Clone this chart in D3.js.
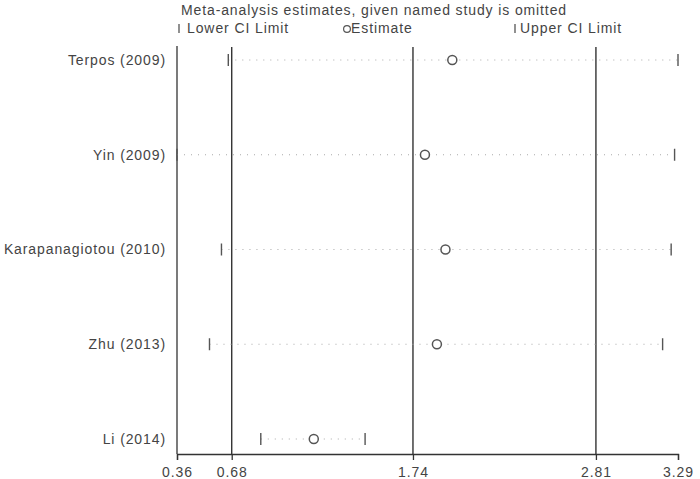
<!DOCTYPE html>
<html>
<head>
<meta charset="utf-8">
<script src="https://cdn.jsdelivr.net/npm/d3@7"></script>
<style>
  body { margin: 0; background: #fff; }
  svg { display: block; }
  text { font-family: "Liberation Sans", Arial, sans-serif; fill: #444; letter-spacing: 0.9px; }
</style>
</head>
<body>
<svg id="chart" width="700" height="479"></svg>
<script>
const studies = ["Terpos (2009)", "Yin (2009)", "Karapanagiotou (2010)", "Zhu (2013)", "Li (2014)"];
const lowerCI = [0.66, 0.36, 0.62, 0.55, 0.85];
const estimates = [1.97, 1.81, 1.93, 1.88, 1.16];
const upperCI = [3.29, 3.27, 3.25, 3.20, 1.46];
const tickValues = [0.36, 0.68, 1.74, 2.81, 3.29];
const refLines = [0.68, 1.74, 2.81];
const titleText = "Meta-analysis estimates, given named study is omitted";

const svg = d3.select("#chart");
const x = d3.scaleLinear().domain([0.36, 3.29]).range([177, 678]);
const y = d3.scalePoint().domain(studies).range([60, 439]);
const plotTop = 46, plotBottom = 454;

// axis
const axis = d3.axisBottom(x).tickValues(tickValues).tickFormat(d3.format(".2f")).tickSizeInner(6).tickSizeOuter(6);
const gx = svg.append("g").attr("transform", `translate(0,${plotBottom})`).call(axis);
gx.select(".domain").attr("stroke", "#333").attr("stroke-width", 1.3);
gx.selectAll(".tick line").attr("stroke", "#333").attr("stroke-width", 1.3);
gx.selectAll(".tick text").attr("font-size", 14).attr("fill", "#444").attr("dy", "1.0em")
  .attr("font-family", "Liberation Sans, Arial, sans-serif");

// left vertical axis line
svg.append("line").attr("x1", x(0.36)).attr("x2", x(0.36)).attr("y1", plotTop).attr("y2", plotBottom)
  .attr("stroke", "#333").attr("stroke-width", 1.3);

// reference lines
svg.selectAll(".ref").data(refLines).join("line")
  .attr("x1", d => x(d)).attr("x2", d => x(d)).attr("y1", plotTop + 1).attr("y2", plotBottom)
  .attr("stroke", "#333").attr("stroke-width", 1.4);

// study rows
const rows = svg.selectAll(".row").data(studies).join("g");
rows.append("line")
  .attr("x1", (d, i) => x(lowerCI[i])).attr("x2", (d, i) => x(upperCI[i]))
  .attr("y1", d => y(d)).attr("y2", d => y(d))
  .attr("stroke", "#aaa").attr("stroke-width", 1).attr("stroke-dasharray", "1,6");
rows.append("line")
  .attr("x1", (d, i) => x(lowerCI[i])).attr("x2", (d, i) => x(lowerCI[i]))
  .attr("y1", d => y(d) - 6).attr("y2", d => y(d) + 6)
  .attr("stroke", "#555").attr("stroke-width", 1.4);
rows.append("line")
  .attr("x1", (d, i) => x(upperCI[i])).attr("x2", (d, i) => x(upperCI[i]))
  .attr("y1", d => y(d) - 6).attr("y2", d => y(d) + 6)
  .attr("stroke", "#555").attr("stroke-width", 1.4);
rows.append("circle")
  .attr("cx", (d, i) => x(estimates[i])).attr("cy", d => y(d)).attr("r", 4.5)
  .attr("fill", "#fff").attr("stroke", "#555").attr("stroke-width", 1.5);
rows.append("text")
  .attr("x", 166).attr("y", d => y(d)).attr("dy", "0.35em")
  .attr("text-anchor", "end").attr("font-size", 14)
  .text(d => d);

// title & legend
svg.append("text").attr("x", 181).attr("y", 15).attr("font-size", 14)
  .attr("textLength", 386).attr("lengthAdjust", "spacing").text(titleText);

const ly = 28;
svg.append("line").attr("x1", 179).attr("x2", 179).attr("y1", ly - 4).attr("y2", ly + 5)
  .attr("stroke", "#555").attr("stroke-width", 1.3);
svg.append("text").attr("x", 187).attr("y", ly).attr("dy", "0.35em").attr("font-size", 14).text("Lower CI Limit");
svg.append("circle").attr("cx", 347).attr("cy", ly + 1).attr("r", 3.4)
  .attr("fill", "#fff").attr("stroke", "#555").attr("stroke-width", 1.2);
svg.append("text").attr("x", 351).attr("y", ly).attr("dy", "0.35em").attr("font-size", 14).text("Estimate");
svg.append("line").attr("x1", 515).attr("x2", 515).attr("y1", ly - 4).attr("y2", ly + 5)
  .attr("stroke", "#555").attr("stroke-width", 1.3);
svg.append("text").attr("x", 520).attr("y", ly).attr("dy", "0.35em").attr("font-size", 14).text("Upper CI Limit");
</script>
</body>
</html>
